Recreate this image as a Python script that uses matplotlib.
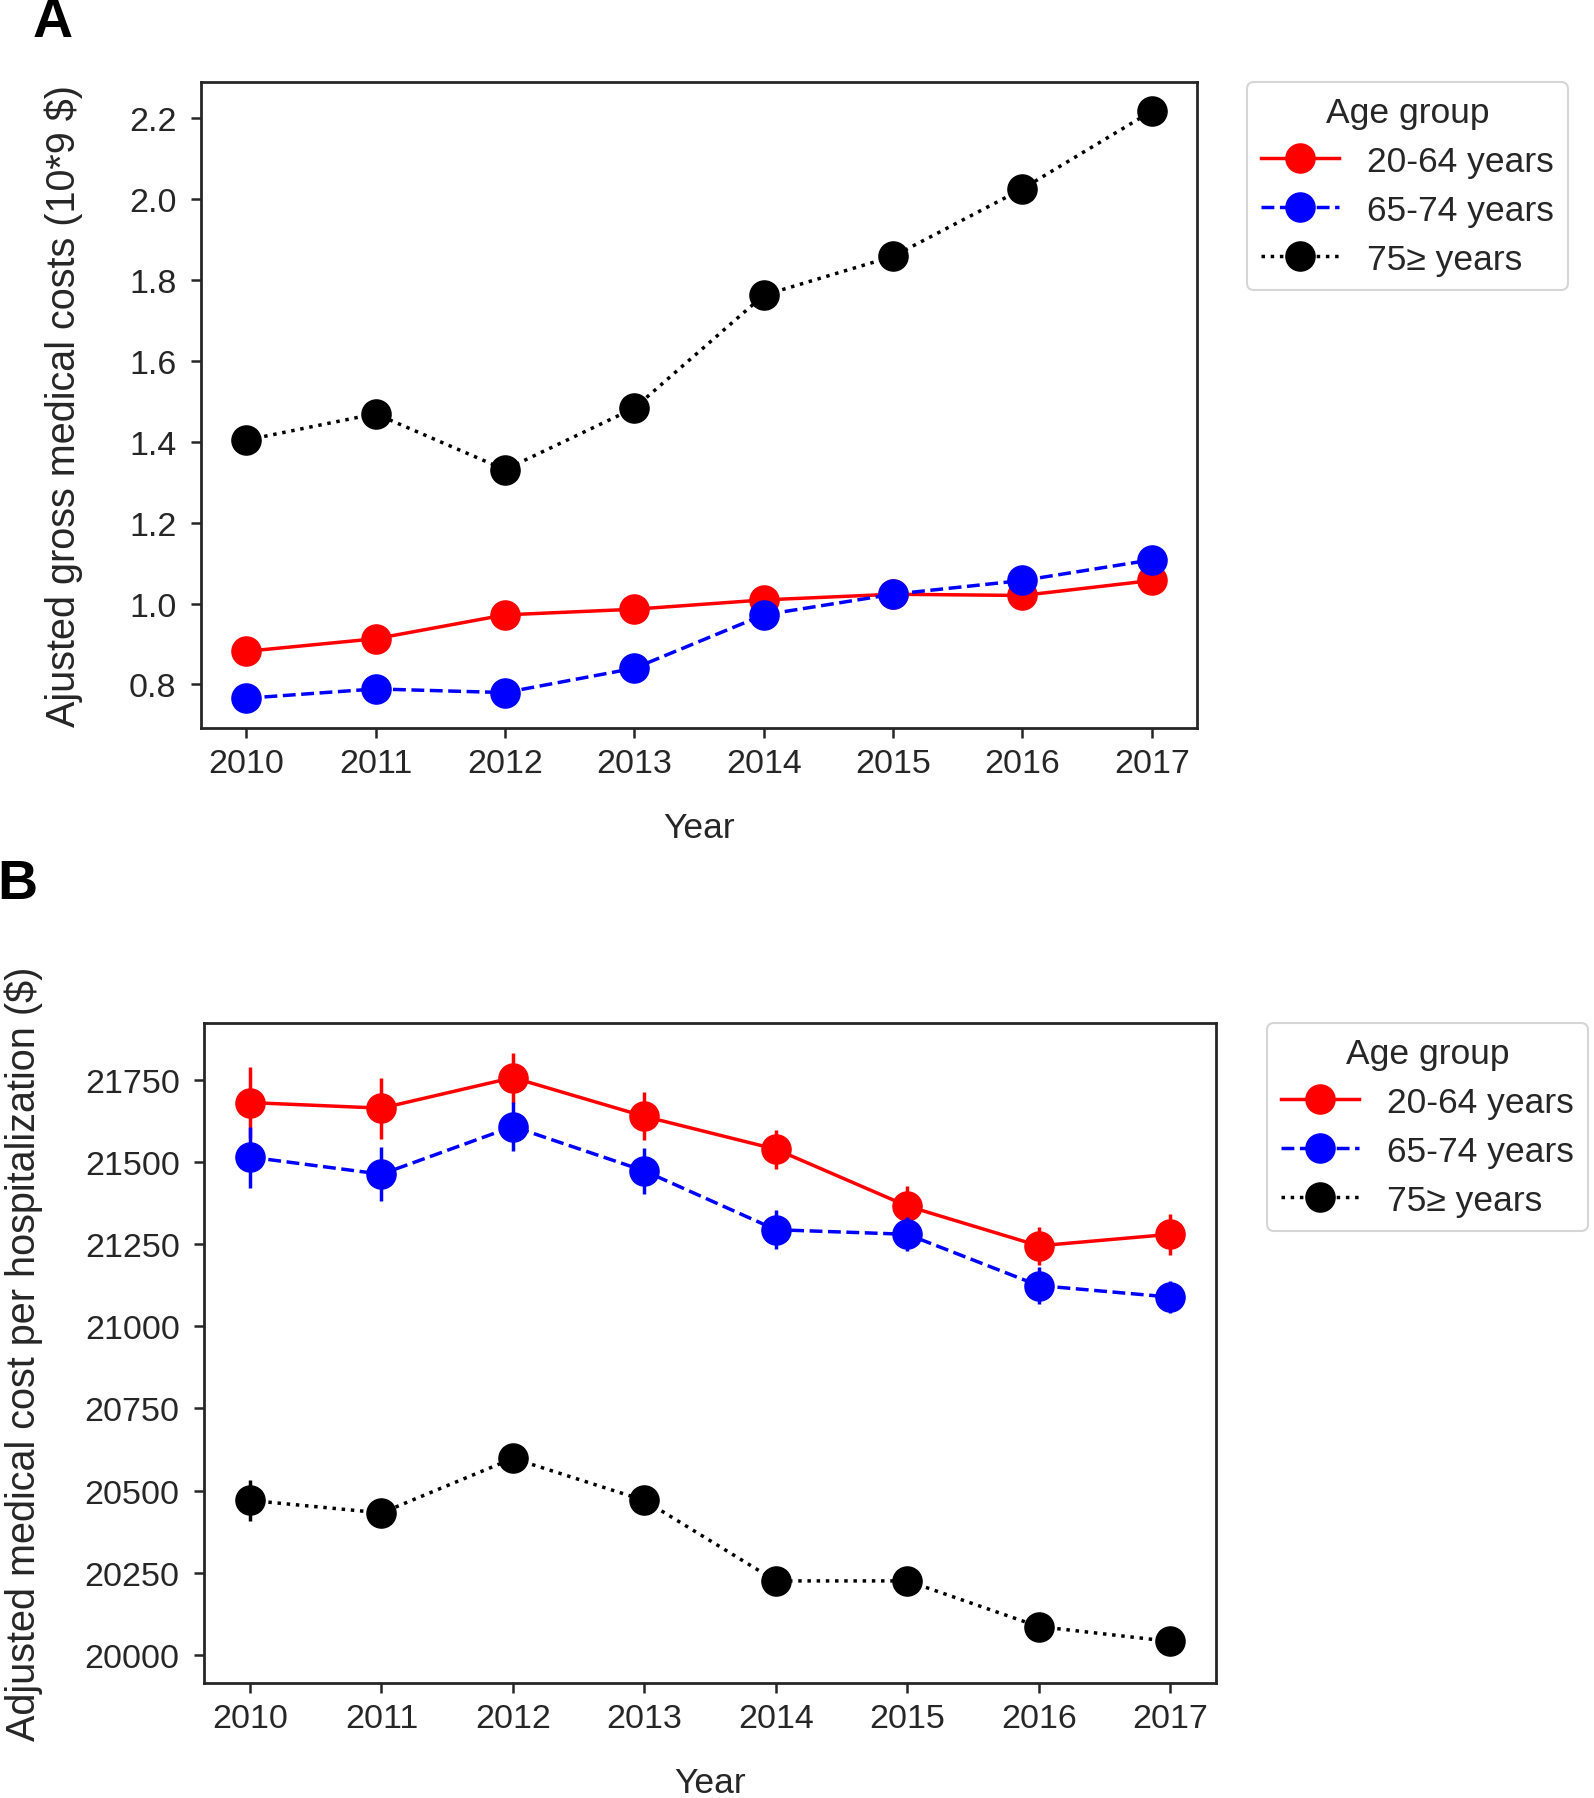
import numpy as np
import matplotlib
matplotlib.use("Agg")
import matplotlib.pyplot as plt


# ============================================================
# Data
# ============================================================

YEARS = [2010, 2011, 2012, 2013, 2014, 2015, 2016, 2017]
GROUPS = ["20-64 years", "65-74 years", "75\u2265 years"]

# Panel A: adjusted gross medical costs (10^9 $)
GROSS_20_64 = [0.882, 0.913, 0.972, 0.986, 1.009, 1.023, 1.020, 1.057]
GROSS_65_74 = [0.766, 0.789, 0.780, 0.840, 0.972, 1.023, 1.057, 1.108]
GROSS_75 = [1.404, 1.469, 1.331, 1.483, 1.762, 1.858, 2.025, 2.217]

# Panel B: adjusted medical cost per hospitalization ($) and CI half-widths
PER_HOSP_20_64 = [21681, 21664, 21757, 21639, 21539, 21366, 21245, 21280]
PER_HOSP_65_74 = [21515, 21463, 21608, 21473, 21294, 21280, 21124, 21089]
PER_HOSP_75 = [20470, 20432, 20598, 20470, 20225, 20225, 20086, 20041]

ERR_20_64 = [107, 93, 76, 73, 59, 62, 57, 62]
ERR_65_74 = [93, 83, 75, 69, 60, 52, 55, 50]
ERR_75 = [62, 40, 40, 40, 35, 35, 35, 35]


# ============================================================
# Style settings
# ============================================================

plt.rcParams["font.family"] = ["Liberation Sans", "DejaVu Sans"]

COLORS = ["red", "blue", "black"]
LINESTYLES = ["-", "--", ":"]
TEXT_COLOR = "#262626"

TICK_SIZE = 24.5
LABEL_SIZE = 25.5
YLABEL_SIZE = 28.5


# ============================================================
# Helper functions
# ============================================================

def style_axes(ax, ylabel, ylabelpad):
    for spine in ax.spines.values():
        spine.set_color(TEXT_COLOR)
        spine.set_linewidth(2)
    ax.tick_params(axis="both", labelsize=TICK_SIZE, colors=TEXT_COLOR,
                   length=7.5, width=1.8)
    ax.tick_params(axis="y", pad=10)
    ax.tick_params(axis="x", pad=7)
    ax.set_xticks(YEARS)
    ax.set_xlabel("Year", fontsize=LABEL_SIZE, color=TEXT_COLOR, labelpad=23)
    ax.set_ylabel(ylabel, fontsize=YLABEL_SIZE, color=TEXT_COLOR, labelpad=ylabelpad)


def add_legend(ax):
    leg = ax.legend(
        title="Age group",
        loc="upper left",
        bbox_to_anchor=(1.05, 1.0),
        borderaxespad=0,
        fontsize=LABEL_SIZE,
        title_fontsize=LABEL_SIZE,
        frameon=True,
        fancybox=True,
        handlelength=2.2,
        labelspacing=0.45,
    )
    leg.get_frame().set_edgecolor("#cccccc")
    leg.get_frame().set_linewidth(1.5)
    for text in leg.get_texts():
        text.set_color(TEXT_COLOR)
    leg.get_title().set_color(TEXT_COLOR)


def plot_gross(ax):
    series = [GROSS_20_64, GROSS_65_74, GROSS_75]
    for values, label, color, ls in zip(series, GROUPS, COLORS, LINESTYLES):
        ax.plot(YEARS, values, color=color, linestyle=ls, linewidth=2.5,
                marker="o", markersize=21, label=label)
    style_axes(ax, "Ajusted gross medical costs (10*9 $)", ylabelpad=33)
    ax.set_yticks([0.8, 1.0, 1.2, 1.4, 1.6, 1.8, 2.0, 2.2])
    add_legend(ax)


def plot_per_hospitalization(ax):
    series = [PER_HOSP_20_64, PER_HOSP_65_74, PER_HOSP_75]
    errors = [ERR_20_64, ERR_65_74, ERR_75]
    for values, err, label, color, ls in zip(series, errors, GROUPS, COLORS, LINESTYLES):
        # CI bars first, then the line + markers on top
        ax.errorbar(YEARS, values, yerr=err, fmt="none", ecolor=color,
                    elinewidth=2.5, capsize=0)
        ax.plot(YEARS, values, color=color, linestyle=ls, linewidth=2.5,
                marker="o", markersize=21, label=label)
    style_axes(ax, "Adjusted medical cost per hospitalization ($)", ylabelpad=30)
    ax.set_yticks([20000, 20250, 20500, 20750, 21000, 21250, 21500, 21750])
    add_legend(ax)


# ============================================================
# Main
# ============================================================

def main():
    fig = plt.figure(figsize=(15.94, 17.99), dpi=100)

    ax_a = fig.add_axes([0.126, 0.595, 0.625, 0.359])
    ax_b = fig.add_axes([0.128, 0.064, 0.635, 0.367])

    plot_gross(ax_a)
    plot_per_hospitalization(ax_b)

    fig.text(0.033, 0.987, "A", fontsize=40, fontweight="bold", va="center", ha="center")
    fig.text(0.011, 0.508, "B", fontsize=40, fontweight="bold", va="center", ha="center")

    fig.savefig("out.png", dpi=100)
    plt.close(fig)


if __name__ == "__main__":
    main()
